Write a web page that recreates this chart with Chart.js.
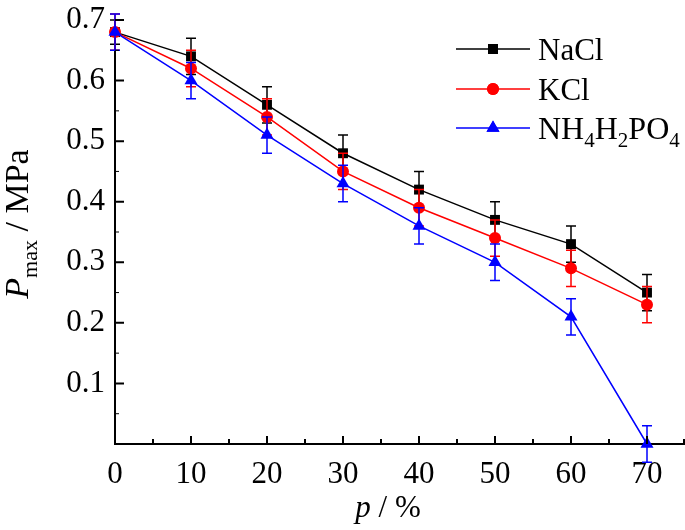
<!DOCTYPE html>
<html>
<head>
<meta charset="utf-8">
<script src="https://cdn.jsdelivr.net/npm/chart.js@4"></script>
<style>
  html, body { margin: 0; padding: 0; background: #fff; }
  #wrap { width: 685px; height: 530px; }
</style>
</head>
<body>
<div id="wrap"><canvas id="chart"></canvas></div>
<script>
// data
const pValues = [0, 10, 20, 30, 40, 50, 60, 70];
const nacl = [0.68, 0.64, 0.56, 0.48, 0.42, 0.37, 0.33, 0.25];
const kcl = [0.68, 0.62, 0.54, 0.45, 0.39, 0.34, 0.29, 0.23];
const nh4 = [0.68, 0.60, 0.51, 0.43, 0.36, 0.30, 0.21, 0.00];
const naclErr = [0.02, 0.03, 0.03, 0.03, 0.03, 0.03, 0.03, 0.03];
const kclErr = [0.03, 0.03, 0.03, 0.03, 0.03, 0.03, 0.03, 0.03];
const nh4Err = [0.03, 0.03, 0.03, 0.03, 0.03, 0.03, 0.03, 0.03];
const xTicks = [0, 10, 20, 30, 40, 50, 60, 70];
const xMinor = [5, 15, 25, 35, 45, 55, 65, 75];
const yTicks = [0.1, 0.2, 0.3, 0.4, 0.5, 0.6, 0.7];
const yMinor = [0.05, 0.15, 0.25, 0.35, 0.45, 0.55, 0.65];

const FONT = "'Liberation Serif', 'Times New Roman', serif";

const toPoints = (ys) => ys.map((y, i) => ({ x: pValues[i], y: y }));

const series = [
  { label: "NaCl", data: nacl, err: naclErr, color: "#000000", style: "rect", r: 7, order: 3 },
  { label: "KCl", data: kcl, err: kclErr, color: "#ff0000", style: "circle", r: 6, order: 2 },
  { label: "NH4H2PO4", data: nh4, err: nh4Err, color: "#0000ff", style: "triangle", r: 7.5, order: 1 },
];

// error bars, inward ticks, legend and axis titles
const extras = {
  id: "extras",
  beforeDatasetDraw(chart, args) {
    const s = series[args.index];
    const xs = chart.scales.x, ys = chart.scales.y;
    const ctx = chart.ctx;
    ctx.save();
    ctx.strokeStyle = s.color;
    ctx.lineWidth = 1.5;
    s.data.forEach((v, i) => {
      const px = xs.getPixelForValue(pValues[i]);
      const top = ys.getPixelForValue(v + s.err[i]);
      const bot = ys.getPixelForValue(v - s.err[i]);
      ctx.beginPath();
      ctx.moveTo(px, top); ctx.lineTo(px, bot);
      ctx.moveTo(px - 5, top); ctx.lineTo(px + 5, top);
      ctx.moveTo(px - 5, bot); ctx.lineTo(px + 5, bot);
      ctx.stroke();
    });
    ctx.restore();
  },
  afterDraw(chart) {
    const ctx = chart.ctx;
    const xs = chart.scales.x, ys = chart.scales.y;
    const a = chart.chartArea;
    ctx.save();
    ctx.strokeStyle = "#000";
    ctx.lineWidth = 2;
    ctx.beginPath();
    xTicks.forEach(t => { const p = xs.getPixelForValue(t); ctx.moveTo(p, a.bottom); ctx.lineTo(p, a.bottom - 8); });
    xMinor.forEach(t => { const p = Math.min(xs.getPixelForValue(t), a.right - 1); ctx.moveTo(p, a.bottom); ctx.lineTo(p, a.bottom - 5); });
    yTicks.forEach(t => { const p = ys.getPixelForValue(t); ctx.moveTo(a.left, p); ctx.lineTo(a.left + 9, p); });
    ctx.stroke();
    ctx.lineWidth = 1;
    ctx.beginPath();
    yMinor.forEach(t => { const p = ys.getPixelForValue(t); ctx.moveTo(a.left, p); ctx.lineTo(a.left + 4, p); });
    ctx.stroke();

    // legend
    const rows = [49, 89, 128];
    series.forEach((s, i) => {
      const y = rows[i];
      ctx.strokeStyle = s.color;
      ctx.lineWidth = 1.5;
      ctx.beginPath();
      ctx.moveTo(456, y); ctx.lineTo(530, y);
      ctx.stroke();
      ctx.fillStyle = s.color;
      Chart.helpers.drawPoint(ctx, { pointStyle: s.style, radius: s.r, borderWidth: 0 }, 493, y);
      ctx.fill();
      ctx.fillStyle = "#000";
      ctx.textBaseline = "alphabetic";
      ctx.textAlign = "left";
      if (i < 2) {
        ctx.font = "31px " + FONT;
        ctx.fillText(s.label, 538, y + 11);
      } else {
        let x = 538;
        const parts = [["NH", false], ["4", true], ["H", false], ["2", true], ["PO", false], ["4", true]];
        parts.forEach(([t, sub]) => {
          ctx.font = (sub ? "21px " : "32px ") + FONT;
          ctx.fillText(t, x, y + 11 + (sub ? 8 : 0));
          x += ctx.measureText(t).width;
        });
      }
    });

    // x title
    ctx.fillStyle = "#000";
    ctx.textAlign = "left";
    ctx.font = "31px " + FONT;
    const xt2 = " / %";
    const w2 = ctx.measureText(xt2).width;
    ctx.font = "italic 31px " + FONT;
    const xt1 = "p";
    const w1 = ctx.measureText(xt1).width;
    const sx = 388 - (w1 + w2) / 2;
    ctx.fillText(xt1, sx, 517);
    ctx.font = "31px " + FONT;
    ctx.fillText(xt2, sx + w1, 517);

    // y title, rotated
    ctx.translate(28, 224);
    ctx.rotate(-Math.PI / 2);
    const pieces = [["P", "italic 34px ", 0], ["max", "22px ", 9], [" / MPa", "34px ", 0]];
    let total = 0;
    pieces.forEach(([t, f]) => { ctx.font = f + FONT; total += ctx.measureText(t).width; });
    let px = -total / 2;
    pieces.forEach(([t, f, dy]) => {
      ctx.font = f + FONT;
      ctx.fillText(t, px, dy);
      px += ctx.measureText(t).width;
    });
    ctx.restore();
  }
};

new Chart(document.getElementById("chart"), {
  type: "line",
  data: {
    datasets: series.map(s => ({
      label: s.label,
      data: toPoints(s.data),
      borderColor: s.color,
      backgroundColor: s.color,
      borderWidth: 1.5,
      pointStyle: s.style,
      pointRadius: s.r,
      pointBorderWidth: 0,
      pointBackgroundColor: s.color,
      tension: 0,
      clip: false,
      order: s.order,
    })),
  },
  options: {
    responsive: true,
    maintainAspectRatio: false,
    animation: false,
    layout: { autoPadding: false, padding: { top: 20, right: 0, left: 0, bottom: 0 } },
    plugins: { legend: { display: false }, tooltip: { enabled: false } },
    scales: {
      x: {
        type: "linear",
        min: 0,
        max: 75,
        afterFit: (scale) => { scale.height = 86; scale.paddingRight = 0; scale.paddingLeft = 0; },
        afterBuildTicks: (scale) => { scale.ticks = xTicks.map(v => ({ value: v })); },
        grid: { drawOnChartArea: false, drawTicks: false },
        border: { color: "#000", width: 2 },
        ticks: { color: "#000", padding: 12, font: { family: FONT, size: 31 }, maxRotation: 0 },
      },
      y: {
        min: 0,
        max: 0.7,
        afterFit: (scale) => { scale.width = 115; scale.paddingTop = 0; scale.paddingBottom = 0; },
        afterBuildTicks: (scale) => { scale.ticks = yTicks.map(v => ({ value: v })); },
        grid: { drawOnChartArea: false, drawTicks: false },
        border: { color: "#000", width: 2 },
        ticks: { color: "#000", padding: 10, font: { family: FONT, size: 31 }, callback: (v) => v.toFixed(1) },
      },
    },
  },
  plugins: [extras],
});
</script>
</body>
</html>
